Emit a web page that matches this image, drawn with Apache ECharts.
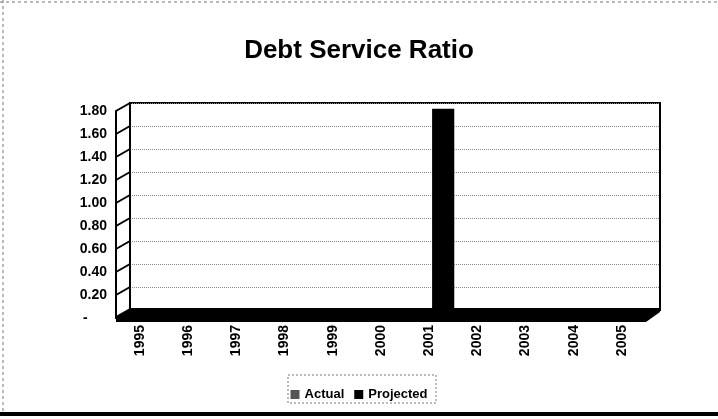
<!DOCTYPE html>
<html><head><meta charset="utf-8">
<script src="https://cdn.jsdelivr.net/npm/echarts@6/dist/echarts.min.js"></script>
<style>html,body{margin:0;padding:0;background:#fff}#c{width:718px;height:419px}</style>
</head><body><div id="c"></div>
<script>
const categories = ['1995','1996','1997','1998','1999','2000','2001','2002','2003','2004','2005'];
const actual = [0,0,0,0,0,0,null,null,null,null,null];
const projected = [null,null,null,null,null,null,1.75,0,0,0,0];
const yMax = 1.8, yStep = 0.2;
const seriesNames = ['Actual','Projected'];
const titleText = 'Debt Service Ratio';

const FONT = '"Liberation Sans", Arial, sans-serif';
const chart = echarts.init(document.getElementById('c'), null, {renderer:'canvas'});
const front = {left:116, top:111, width:530, height:207};
const back  = {left:130, top:103, width:530, height:207};

chart.setOption({
  animation:false,
  backgroundColor:'#fff',
  title:{text:titleText, left:'center', top:33, textStyle:{fontFamily:FONT, fontWeight:'bold', fontSize:26, color:'#000'}},
  legend:{data:seriesNames, left:'center', top:383, icon:'rect', itemWidth:9, itemHeight:9, itemGap:10,
    textStyle:{fontFamily:FONT, fontWeight:'bold', fontSize:13, color:'#000'}},
  grid:[
    Object.assign({show:false}, front),
    Object.assign({show:true, borderColor:'#000', borderWidth:2, backgroundColor:'#fff'}, back)
  ],
  xAxis:[
    {type:'category', gridIndex:0, data:categories, axisLine:{show:true, lineStyle:{color:'#000', width:2}},
     axisTick:{show:false}, axisLabel:{rotate:90, margin:7, interval:0, fontFamily:FONT, fontWeight:'bold', fontSize:14, color:'#000'}},
    {type:'category', gridIndex:1, data:categories, show:false}
  ],
  yAxis:[
    {type:'value', gridIndex:0, min:0, max:yMax, interval:yStep,
     axisLine:{show:true, lineStyle:{color:'#000', width:2}}, axisTick:{show:false}, splitLine:{show:false},
     axisLabel:{margin:9, fontFamily:FONT, fontWeight:'bold', fontSize:14, color:'#000',
       formatter:v => v === 0 ? '-     ' : v.toFixed(2)}},
    {type:'value', gridIndex:1, min:0, max:yMax, interval:yStep,
     axisLine:{show:true, lineStyle:{color:'#000', width:2}}, axisTick:{show:false}, axisLabel:{show:false},
     splitLine:{show:true, lineStyle:{color:'#888', type:'dotted', width:1}}}
  ],
  series:[
    {name:seriesNames[0], type:'bar', xAxisIndex:1, yAxisIndex:1, stack:'s', data:actual, barWidth:'46%',
     itemStyle:{color:'#555'}},
    {name:seriesNames[1], type:'bar', xAxisIndex:1, yAxisIndex:1, stack:'s', data:projected, barWidth:'46%',
     itemStyle:{color:'#000'}}
  ]
});

// decorative 3D frame computed from the axes
const g = [];
const fx0 = front.left, fx1 = front.left + front.width;
const bx0 = back.left, bx1 = back.left + back.width;
const fy0 = chart.convertToPixel({yAxisIndex:0}, 0);
const by0 = chart.convertToPixel({yAxisIndex:1}, 0);
for (let v = yStep; v <= yMax + 1e-9; v += yStep) {
  const fy = chart.convertToPixel({yAxisIndex:0}, v);
  const by = chart.convertToPixel({yAxisIndex:1}, v);
  g.push({type:'line', shape:{x1:fx0, y1:fy, x2:bx0, y2:by}, style:{stroke:'#000', lineWidth:2}, z:50});
}
g.push({type:'polygon', shape:{points:[[bx0,by0-2],[bx1,by0-2],[bx1,by0+2],[fx1,fy0+4],[fx0,fy0+4],[fx0,fy0-2]]},
  style:{fill:'#000'}, z:60});
// outer frame
g.push({type:'line', shape:{x1:0, y1:2, x2:718, y2:2}, style:{stroke:'#777', lineWidth:1, lineDash:[3,3]}, z:70});
g.push({type:'line', shape:{x1:3, y1:0, x2:3, y2:413}, style:{stroke:'#777', lineWidth:1, lineDash:[3,3]}, z:70});
g.push({type:'line', shape:{x1:0, y1:414, x2:718, y2:414}, style:{stroke:'#000', lineWidth:4}, z:70});
// legend box
g.push({type:'rect', shape:{x:288, y:375, width:148, height:28}, style:{fill:null, stroke:'#777', lineWidth:1, lineDash:[2,2]}, z:70});
chart.setOption({graphic:g});
</script></body></html>
